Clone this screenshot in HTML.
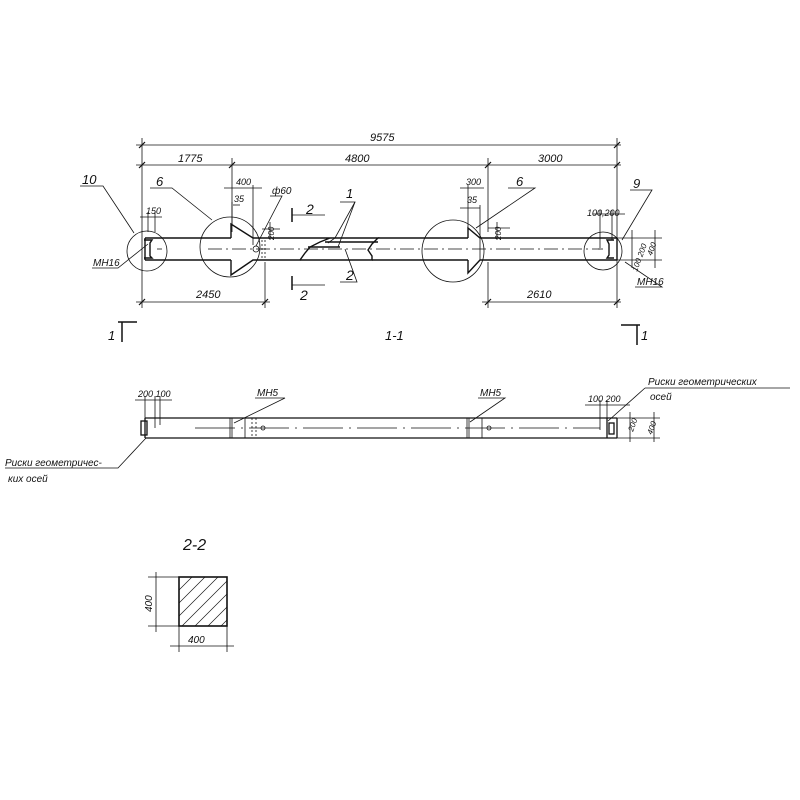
<!DOCTYPE html>
<html><head><meta charset="utf-8"><style>
html,body{margin:0;padding:0;background:#fff;}
svg{display:block}
text{font-family:"Liberation Sans",sans-serif;font-style:italic;fill:#111;}
</style></head><body>
<svg width="800" height="800" viewBox="0 0 800 800" xmlns="http://www.w3.org/2000/svg">
<g stroke="#111" fill="none" stroke-width="0.8">
<!-- top dimension lines -->
<line x1="136" y1="145" x2="621" y2="145"/>
<line x1="136" y1="165" x2="621" y2="165"/>
<line x1="142" y1="138" x2="142" y2="308"/>
<line x1="617" y1="138" x2="617" y2="308"/>
<line x1="232" y1="158" x2="232" y2="232"/>
<line x1="488" y1="158" x2="488" y2="232"/>
<g stroke-width="1.2">
<line x1="139" y1="148" x2="145" y2="142"/><line x1="614" y1="148" x2="620" y2="142"/>
<line x1="139" y1="168" x2="145" y2="162"/><line x1="229" y1="168" x2="235" y2="162"/>
<line x1="485" y1="168" x2="491" y2="162"/><line x1="614" y1="168" x2="620" y2="162"/>
</g>
<!-- 400/35 dims -->
<line x1="224" y1="188" x2="262" y2="188"/>
<line x1="253" y1="185" x2="253" y2="245"/>
<line x1="233" y1="205" x2="240" y2="205"/>
<line x1="232" y1="202" x2="232" y2="225"/>
<line x1="140" y1="217" x2="162" y2="217"/>
<line x1="148" y1="212" x2="148" y2="232"/>
<line x1="155" y1="212" x2="155" y2="232"/>
<!-- 300/35 right -->
<line x1="460" y1="188" x2="484" y2="188"/>
<line x1="468" y1="185" x2="468" y2="232"/>
<line x1="460" y1="208" x2="480" y2="208"/>
<line x1="480" y1="205" x2="480" y2="260"/>
<!-- beam -->
<g stroke-width="1.4">
<line x1="145" y1="238" x2="231" y2="238"/>
<line x1="145" y1="260" x2="231" y2="260"/>
<polyline points="231,238 231,224 253,238 308,238"/>
<polyline points="231,260 231,275 253,260 298,260"/>
<line x1="378" y1="238" x2="468" y2="238"/>
<line x1="372" y1="260" x2="468" y2="260"/>
<polyline points="468,238 468,228 480,238 617,238"/>
<polyline points="468,260 468,273 480,260 617,260"/>
<polyline points="308,238 330,238 320,242 310,247 305,253 300,260 298,260"/>
<polyline points="330,238 378,238 372,244 368,250 372,256 372,260 300,260"/>
<line x1="308" y1="247" x2="340" y2="247"/>
<line x1="325" y1="242" x2="378" y2="242"/>
<line x1="145" y1="238" x2="145" y2="260"/>
<line x1="617" y1="238" x2="617" y2="260"/>
</g>
<line x1="262" y1="240" x2="262" y2="258" stroke-dasharray="2,2"/>
<line x1="265" y1="240" x2="265" y2="258" stroke-dasharray="2,2"/>
<line x1="208" y1="249" x2="600" y2="249" stroke-dasharray="14,4,2,4"/>
<circle cx="256" cy="249" r="3"/>
<!-- end details -->
<polyline points="144,240 152,240 150,243 150,256 152,258 144,258" stroke-width="1.4"/>
<line x1="157" y1="249" x2="162" y2="249"/>
<polyline points="614,240 607,240 609,244 609,255 607,258 614,258" stroke-width="1.4"/>
<line x1="598" y1="249" x2="603" y2="249"/>
<!-- circles -->
<circle cx="147" cy="251" r="20"/>
<circle cx="230" cy="247" r="30"/>
<circle cx="453" cy="251" r="31"/>
<circle cx="603" cy="251" r="19"/>
<!-- leaders -->
<polyline points="80,186 103,186 134,233"/>
<polyline points="150,188 172,188 212,220"/>
<polyline points="92,268 118,268 148,244"/>
<polyline points="270,196 282,196 256,246"/>
<polyline points="340,202 355,202 335,238 328,243"/>
<polyline points="355,202 338,247"/>
<polyline points="340,282 357,282 345,249"/>
<polyline points="508,188 535,188 476,228"/>
<polyline points="630,190 652,190 622,240"/>
<polyline points="635,287 662,287 625,262"/>
<!-- section marks 2 -->
<line x1="292" y1="208" x2="292" y2="222" stroke-width="1.5"/>
<line x1="292" y1="215" x2="325" y2="215"/>
<line x1="292" y1="276" x2="292" y2="290" stroke-width="1.5"/>
<line x1="292" y1="285" x2="325" y2="285"/>
<!-- small dims near circles -->
<line x1="262" y1="229" x2="280" y2="229"/>
<line x1="270" y1="222" x2="270" y2="240"/>
<line x1="488" y1="228" x2="510" y2="228"/>
<line x1="497" y1="222" x2="497" y2="240"/>
<line x1="593" y1="214" x2="625" y2="214"/>
<line x1="600" y1="210" x2="600" y2="248"/>
<line x1="612" y1="210" x2="612" y2="240"/>
<line x1="617" y1="238" x2="662" y2="238"/>
<line x1="617" y1="260" x2="662" y2="260"/>
<line x1="632" y1="230" x2="632" y2="268"/>
<line x1="655" y1="230" x2="655" y2="268"/>
<!-- bottom dims -->
<line x1="136" y1="302" x2="270" y2="302"/>
<line x1="265" y1="262" x2="265" y2="308"/>
<line x1="482" y1="302" x2="621" y2="302"/>
<line x1="488" y1="262" x2="488" y2="308"/>
<g stroke-width="1.2">
<line x1="139" y1="305" x2="145" y2="299"/><line x1="262" y1="305" x2="268" y2="299"/>
<line x1="485" y1="305" x2="491" y2="299"/><line x1="614" y1="305" x2="620" y2="299"/>
</g>
<!-- section 1 markers -->
<g stroke-width="1.5">
<line x1="118" y1="322" x2="137" y2="322"/><line x1="122" y1="322" x2="122" y2="342"/>
<line x1="621" y1="325" x2="640" y2="325"/><line x1="637" y1="325" x2="637" y2="345"/>
</g>
<!-- view 2 -->
<g stroke-width="1.3">
<line x1="145" y1="418" x2="617" y2="418"/>
<line x1="145" y1="438" x2="617" y2="438"/>
<line x1="145" y1="418" x2="145" y2="438"/>
<line x1="607" y1="418" x2="607" y2="438"/>
<line x1="617" y1="418" x2="617" y2="438"/>
<rect x="141" y="421" width="6" height="14"/>
<rect x="609" y="423" width="5" height="11"/>
</g>
<line x1="230" y1="418" x2="230" y2="438"/><line x1="232" y1="418" x2="232" y2="438"/>
<line x1="245" y1="418" x2="245" y2="438"/>
<line x1="252" y1="418" x2="252" y2="438" stroke-dasharray="2,2"/>
<line x1="256" y1="418" x2="256" y2="438" stroke-dasharray="2,2"/>
<circle cx="263" cy="428" r="2"/>
<line x1="467" y1="418" x2="467" y2="438"/><line x1="469" y1="418" x2="469" y2="438"/>
<line x1="482" y1="418" x2="482" y2="438"/>
<circle cx="489" cy="428" r="2"/>
<line x1="195" y1="428" x2="600" y2="428" stroke-dasharray="40,6,2,6"/>
<line x1="135" y1="400" x2="172" y2="400"/>
<line x1="145" y1="396" x2="145" y2="418"/>
<line x1="155" y1="396" x2="155" y2="428"/>
<line x1="160" y1="396" x2="160" y2="425"/>
<line x1="585" y1="405" x2="630" y2="405"/>
<line x1="600" y1="400" x2="600" y2="430"/>
<line x1="607" y1="400" x2="607" y2="418"/>
<line x1="617" y1="438" x2="660" y2="438"/>
<line x1="617" y1="418" x2="660" y2="418"/>
<line x1="630" y1="412" x2="630" y2="442"/>
<line x1="654" y1="412" x2="654" y2="442"/>
<polyline points="255,398 285,398 234,423"/>
<polyline points="478,398 505,398 470,422"/>
<polyline points="5,468 118,468 146,438"/>
<polyline points="645,388 790,388"/>
<line x1="645" y1="388" x2="608" y2="421"/>
<!-- 2-2 -->
<rect x="179" y="577" width="48" height="49" stroke-width="1.6"/>
<g stroke-width="0.6">
<line x1="179" y1="590" x2="192" y2="577"/><line x1="179" y1="603" x2="205" y2="577"/>
<line x1="179" y1="616" x2="218" y2="577"/><line x1="182" y1="626" x2="227" y2="581"/>
<line x1="195" y1="626" x2="227" y2="594"/><line x1="208" y1="626" x2="227" y2="607"/>
<line x1="221" y1="626" x2="227" y2="620"/>
</g>
<line x1="148" y1="577" x2="179" y2="577"/>
<line x1="148" y1="626" x2="179" y2="626"/>
<line x1="156" y1="572" x2="156" y2="632"/>
<line x1="179" y1="626" x2="179" y2="652"/>
<line x1="227" y1="626" x2="227" y2="652"/>
<line x1="170" y1="646" x2="234" y2="646"/>
</g>
<g font-size="11">
<text x="370" y="141">9575</text>
<text x="178" y="162">1775</text>
<text x="345" y="162">4800</text>
<text x="538" y="162">3000</text>
<text x="82" y="184" font-size="13">10</text>
<text x="156" y="186" font-size="13">6</text>
<text x="236" y="185" font-size="9">400</text>
<text x="234" y="202" font-size="9">35</text>
<text x="272" y="194" font-size="10">ф60</text>
<text x="146" y="214" font-size="9">150</text>
<text x="93" y="266" font-size="10">МН16</text>
<text x="346" y="198" font-size="13">1</text>
<text x="306" y="214" font-size="14">2</text>
<text x="346" y="280" font-size="14">2</text>
<text x="300" y="300" font-size="14">2</text>
<text x="466" y="185" font-size="9">300</text>
<text x="467" y="203" font-size="9">35</text>
<text x="516" y="186" font-size="13">6</text>
<text x="633" y="188" font-size="13">9</text>
<text x="587" y="216" font-size="9">100,200</text>
<text x="637" y="285" font-size="10">МН16</text>
<text x="196" y="298">2450</text>
<text x="527" y="298">2610</text>
<text x="108" y="340" font-size="13">1</text>
<text x="641" y="340" font-size="13">1</text>
<text x="385" y="340" font-size="13">1-1</text>
<text x="138" y="397" font-size="9">200 100</text>
<text x="257" y="396" font-size="10">МН5</text>
<text x="480" y="396" font-size="10">МН5</text>
<text x="588" y="402" font-size="9">100 200</text>
<text x="648" y="385" font-size="10">Риски геометрических</text>
<text x="650" y="400" font-size="10">осей</text>
<text x="5" y="466" font-size="10">Риски геометричес-</text>
<text x="8" y="482" font-size="10">ких осей</text>
<text x="183" y="550" font-size="16">2-2</text>
<text x="188" y="643" font-size="10">400</text>
<text x="152" y="612" font-size="10" transform="rotate(-90 152 612)">400</text>
<text x="274" y="240" font-size="8" transform="rotate(-90 274 240)">200</text>
<text x="501" y="240" font-size="8" transform="rotate(-90 501 240)">200</text>
<text x="637" y="272" font-size="8" transform="rotate(-70 637 272)">100 200</text>
<text x="652" y="256" font-size="8" transform="rotate(-70 652 256)">400</text>
<text x="633" y="432" font-size="8" transform="rotate(-70 633 432)">200</text>
<text x="652" y="435" font-size="8" transform="rotate(-70 652 435)">400</text>
</g>
</svg>
</body></html>
